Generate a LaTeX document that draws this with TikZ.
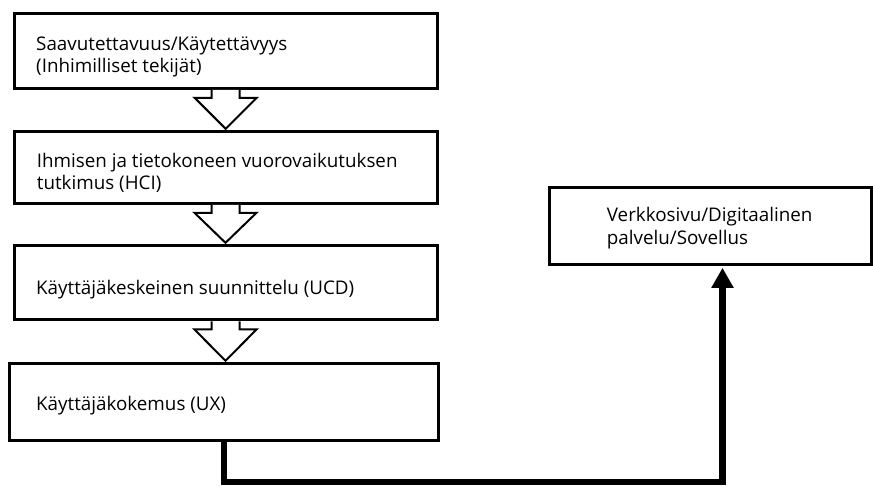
\documentclass[tikz,border=0pt]{standalone}
\usepackage{fontspec}
\setmainfont{Open Sans}
\usetikzlibrary{calc,arrows.meta}
\tikzset{
    box/.style={draw=black, line width=3pt, rectangle, inner sep=0pt},
    txt/.style={anchor=base west, inner sep=0pt, align=left, font=\fontsize{18.8}{22.5}\selectfont},
    hollow/.style={draw=black, line width=2pt, line join=miter, fill=white},
    link/.style={draw=black, line width=6.5pt, -{Triangle[width=21pt,length=20pt]}, shorten >=2pt}
}
\newcommand{\flowarrow}[2]{%
    \draw[hollow] let \p1=(#1.south), \p2=(#2.north) in
        (\x1-14pt,\y1) -- (\x1-14pt,\y1-8pt) -- (\x1-31pt,\y1-8pt) -- (\x1,\y2+1pt)
        -- (\x1+31pt,\y1-8pt) -- (\x1+14pt,\y1-8pt) -- (\x1+14pt,\y1);
}

\begin{document}
\begin{tikzpicture}[x=1pt, y=1pt]
    \useasboundingbox (0,0) rectangle (873,485);

    \node[box, minimum width=423.3pt, minimum height=74.3pt] (sa) at (225.65,433.85) {};
    \node[box, minimum width=423pt, minimum height=72pt] (hci) at (225.5,317.7) {};
    \node[box, minimum width=423pt, minimum height=74.7pt] (ucd) at (225.5,202.35) {};
    \node[box, minimum width=428.3pt, minimum height=76.7pt] (ux) at (223.85,83.35) {};
    \node[box, minimum width=321.3pt, minimum height=76.6pt] (web) at (710.35,259) {};

    \node[txt] (sa-t) at ($(sa.north west)+(23.5,-60.2)$) {Saavutettavuus/Käytettävyys\\(Inhimilliset tekijät)};
    \node[txt] (hci-t) at ($(hci.north west)+(24.2,-60.2)$) {Ihmisen ja tietokoneen vuorovaikutuksen\\tutkimus (HCI)};
    \node[txt] (ucd-t) at ($(ucd.north west)+(23.5,-51.2)$) {Käyttäjäkeskeinen suunnittelu (UCD)};
    \node[txt] (ux-t) at ($(ux.north west)+(27.8,-48.2)$) {Käyttäjäkokemus (UX)};
    \node[txt] (web-t) at ($(web.north west)+(58.5,-58.1)$) {Verkkosivu/Digitaalinen\\palvelu/Sovellus};

    \flowarrow{sa}{hci}
    \flowarrow{hci}{ucd}
    \flowarrow{ucd}{ux}

    \coordinate (turn) at (722.5,3);
    \draw[link] (ux.south) |- (turn) -- ($(web.south)+(12.15,0)$);
\end{tikzpicture}
\end{document}
